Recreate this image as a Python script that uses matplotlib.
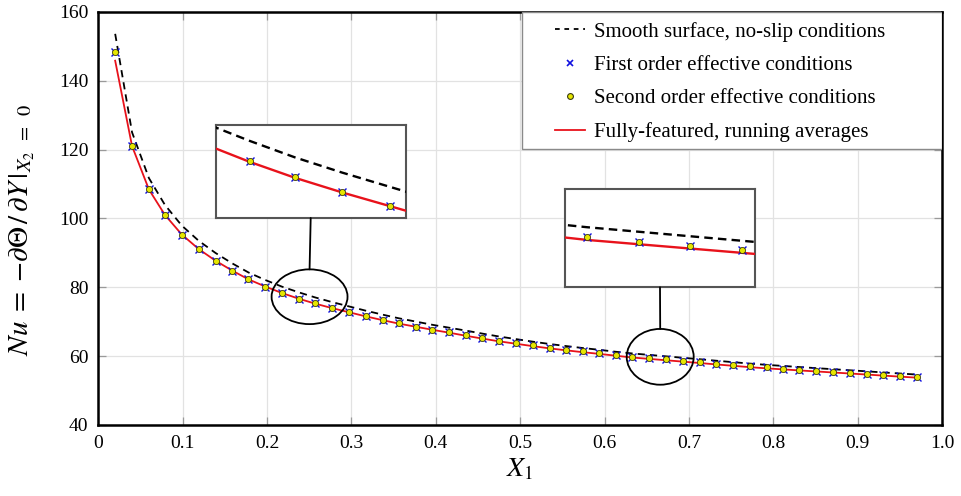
import matplotlib
matplotlib.use("Agg")
import matplotlib.pyplot as plt
from matplotlib.patches import Ellipse, Rectangle, ConnectionPatch
from matplotlib.lines import Line2D

# ---------------- data ----------------
x1 = [0.020, 0.040, 0.060, 0.079, 0.099, 0.119, 0.139, 0.159, 0.178, 0.198,
      0.218, 0.238, 0.257, 0.277, 0.297, 0.317, 0.337, 0.356, 0.376, 0.396,
      0.416, 0.436, 0.455, 0.475, 0.495, 0.515, 0.535, 0.554, 0.574, 0.594,
      0.614, 0.633, 0.653, 0.673, 0.693, 0.713, 0.732, 0.752, 0.772, 0.792,
      0.812, 0.831, 0.851, 0.871, 0.891, 0.911, 0.930, 0.950, 0.970]

nu_effective = [148.2, 121.0, 108.4, 101.0, 95.3, 91.1, 87.7, 84.8, 82.3, 80.2,
                78.3, 76.7, 75.3, 74.0, 72.8, 71.6, 70.5, 69.5, 68.6, 67.7,
                66.9, 66.1, 65.3, 64.5, 63.8, 63.1, 62.45, 61.9, 61.35, 60.85,
                60.3, 59.85, 59.45, 59.05, 58.65, 58.25, 57.85, 57.45, 57.05, 56.7,
                56.4, 56.1, 55.8, 55.5, 55.2, 54.9, 54.6, 54.3, 54.0]

nu_smooth = [153.6, 125.0, 111.7, 103.9, 97.9, 93.5, 89.95, 86.9, 84.3, 82.1,
             80.15, 78.5, 77.05, 75.7, 74.45, 73.2, 72.05, 71.0, 70.05, 69.1,
             68.25, 67.4, 66.55, 65.7, 64.95, 64.2, 63.52, 62.94, 62.36, 61.83,
             61.25, 60.78, 60.36, 59.94, 59.52, 59.1, 58.68, 58.26, 57.84, 57.47,
             57.15, 56.83, 56.51, 56.2, 55.89, 55.58, 55.27, 54.96, 54.65]

nu_running = [145.8, 121.0, 108.4, 101.0, 95.3, 91.1, 87.7, 84.8, 82.3, 80.2,
              78.3, 76.65, 75.25, 73.95, 72.75, 71.55, 70.45, 69.45, 68.55, 67.65,
              66.8, 65.9, 65.1, 64.3, 63.6, 62.9, 62.25, 61.7, 61.15, 60.65,
              60.1, 59.6, 59.2, 58.8, 58.4, 58.0, 57.6, 57.2, 56.8, 56.45,
              56.15, 55.85, 55.55, 55.25, 54.95, 54.65, 54.35, 54.05, 53.75]

labels = ["Smooth surface, no-slip conditions",
          "First order effective conditions",
          "Second order effective conditions",
          "Fully-featured, running averages"]

x_ticks = [0, 0.1, 0.2, 0.3, 0.4, 0.5, 0.6, 0.7, 0.8, 0.9, 1.0]
x_ticklabels = ["0", "0.1", "0.2", "0.3", "0.4", "0.5", "0.6", "0.7", "0.8", "0.9", "1.0"]
y_ticks = [40, 60, 80, 100, 120, 140, 160]

# zoom regions (ellipse centre / size in data units) and inset views
zoom1 = dict(center=(0.2504, 77.25), width=0.090, height=15.9,
             xlim=(0.2237, 0.3037), ylim=(71.7, 79.9))
zoom2 = dict(center=(0.666, 59.8), width=0.0794, height=16.2,
             xlim=(0.6245, 0.6981), ylim=(55.2, 64.3))

# ---------------- styling ----------------
plt.rcParams["font.family"] = ["Liberation Serif", "DejaVu Serif"]
plt.rcParams["mathtext.fontset"] = "stix"

W, H = 962, 496
fig = plt.figure(figsize=(W / 100, H / 100), dpi=100)
fig.patch.set_facecolor("white")


def px_axes(x0, y0, x1_, y1_):
    return [x0 / W, 1 - y1_ / H, (x1_ - x0) / W, (y1_ - y0) / H]


ax = fig.add_axes(px_axes(98.3, 11.8, 942, 425))

DASH = (0, (4.0, 2.8))


def draw_series(a, lw_line=1.3, dash=DASH, ms_x=6.0, ms_o=4.4):
    a.plot(x1, nu_smooth, color="black", lw=lw_line, linestyle=dash, zorder=3)
    a.plot(x1, nu_running, color="#e8121b", lw=lw_line, zorder=4)
    a.plot(x1, nu_effective, linestyle="none", marker="x", color="#1010e0",
           ms=ms_x, mew=1.0, zorder=5)
    a.plot(x1, nu_effective, linestyle="none", marker="o", mfc="#e6e600",
           mec="#3a3a10", ms=ms_o, mew=0.6, zorder=6)


draw_series(ax)

ax.set_xlim(0, 1.0)
ax.set_ylim(40, 160)
ax.set_xticks(x_ticks)
ax.set_xticklabels(x_ticklabels)
ax.set_yticks(y_ticks)
ax.grid(True, color="#e2e2e2", lw=0.9, zorder=0)
ax.set_axisbelow(True)
ax.tick_params(direction="in", length=6, width=0.9, color="#9a9a9a",
               labelsize=14, top=True, right=True, pad=7)
for sp in ax.spines.values():
    sp.set_linewidth(1.8)
    sp.set_color("black")

ax.set_xlabel(r"$X_1$", fontsize=20, labelpad=4)
ax.set_ylabel(r"$Nu\;=\;{-}\partial\Theta\,/\,\partial Y\,|_{X_2\;\;=\;\;0}$",
              fontsize=21)
ax.yaxis.set_label_coords(-0.073, 0.472)

# legend frame + frameless legend
ax.add_patch(Rectangle((0.5017, 0.668), 1 - 0.5017, 1 - 0.668, transform=ax.transAxes,
                       facecolor="white", edgecolor="#8a8a8a", lw=1.0, zorder=8))
handles = [Line2D([], [], color="black", lw=1.3, linestyle=(0, (2.6, 2.6))),
           Line2D([], [], color="#1010e0", marker="x", linestyle="none", ms=5, mew=1.2),
           Line2D([], [], color="none", marker="o", mfc="#e6e600", mec="#3a3a10",
                  linestyle="none", ms=4.2, mew=0.8),
           Line2D([], [], color="#e8121b", lw=1.3)]
leg = ax.legend(handles, labels, loc="upper left", bbox_to_anchor=(0.541, 0.9758),
                frameon=False, fontsize=15, handlelength=1.45, handletextpad=0.45,
                borderpad=0, borderaxespad=0, labelspacing=0.66)
leg.set_zorder(9)

# zoom ellipses
for z in (zoom1, zoom2):
    ax.add_patch(Ellipse(z["center"], z["width"], z["height"], fill=False,
                         edgecolor="black", lw=1.3, zorder=7))

# inset axes
ins1 = fig.add_axes(px_axes(215.7, 125, 405.7, 218))
ins2 = fig.add_axes(px_axes(565, 189.3, 755, 287.3))
for ins, z in ((ins1, zoom1), (ins2, zoom2)):
    draw_series(ins, lw_line=1.7, dash=(0, (3.6, 2.2)), ms_x=6.0, ms_o=4.4)
    ins.set_xlim(*z["xlim"])
    ins.set_ylim(*z["ylim"])
    ins.set_xticks([])
    ins.set_yticks([])
    ins.set_facecolor("white")
    for sp in ins.spines.values():
        sp.set_linewidth(1.5)
        sp.set_color("#555555")
    cx, cy = z["center"]
    con = ConnectionPatch(xyA=(cx, cy + z["height"] / 2), coordsA=ax.transData,
                          xyB=(0.5, 0.0), coordsB=ins.transAxes,
                          color="black", lw=1.3)
    fig.add_artist(con)

fig.savefig("out.png", dpi=100)
